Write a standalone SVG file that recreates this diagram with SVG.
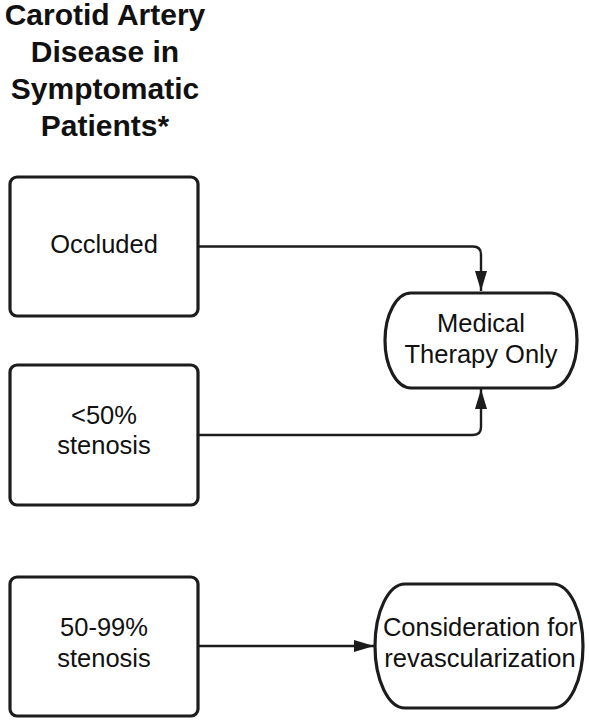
<svg xmlns="http://www.w3.org/2000/svg" width="589" height="720" viewBox="0 0 589 720">
<style>
.box{fill:#fff;stroke:#1c1c1c;stroke-width:3.2}
.t{font-family:"Liberation Sans",Arial,sans-serif;font-size:25.5px;fill:#111;text-anchor:middle}
.title{font-family:"Liberation Sans",Arial,sans-serif;font-size:30px;font-weight:bold;fill:#111;text-anchor:middle}
.c{fill:none;stroke:#1c1c1c;stroke-width:2.4}
</style>
<defs>
<marker id="ah" viewBox="0 0 20 12" refX="20" refY="6" markerWidth="20" markerHeight="12" markerUnits="userSpaceOnUse" orient="auto">
<path d="M0,0 L20,6 L0,12 Z" fill="#1c1c1c"/>
</marker>
</defs>
<rect width="589" height="720" fill="#fff"/>
<g id="title">
<text class="title" x="105" y="25">Carotid Artery</text>
<text class="title" x="105" y="62">Disease in</text>
<text class="title" x="105" y="99">Symptomatic</text>
<text class="title" x="105" y="136">Patients*</text>
</g>
<g id="connectors">
<path class="c" d="M198,246.5 H473 Q481,246.5 481,254.5 V291" marker-end="url(#ah)"/>
<path class="c" d="M198,435 H473 Q481,435 481,427 V389" marker-end="url(#ah)"/>
<path class="c" d="M198,646 H374" marker-end="url(#ah)"/>
</g>
<g id="occluded">
<rect class="box" x="10" y="177" width="188" height="139" rx="7"/>
<text class="t" x="104" y="253">Occluded</text>
</g>
<g id="lt50">
<rect class="box" x="10" y="365" width="188" height="140" rx="7"/>
<text class="t" x="104" y="424">&lt;50%</text>
<text class="t" x="104" y="454">stenosis</text>
</g>
<g id="s5099">
<rect class="box" x="10" y="577" width="188" height="139" rx="7"/>
<text class="t" x="104" y="636">50-99%</text>
<text class="t" x="104" y="667">stenosis</text>
</g>
<g id="medical">
<rect class="box" x="385" y="293" width="192" height="95" rx="26" ry="47.5"/>
<text class="t" x="481" y="332">Medical</text>
<text class="t" x="481" y="363">Therapy Only</text>
</g>
<g id="revasc">
<rect class="box" x="375" y="584" width="208" height="124" rx="30" ry="62"/>
<text class="t" x="480" y="636">Consideration for</text>
<text class="t" x="480" y="667">revascularization</text>
</g>
</svg>
